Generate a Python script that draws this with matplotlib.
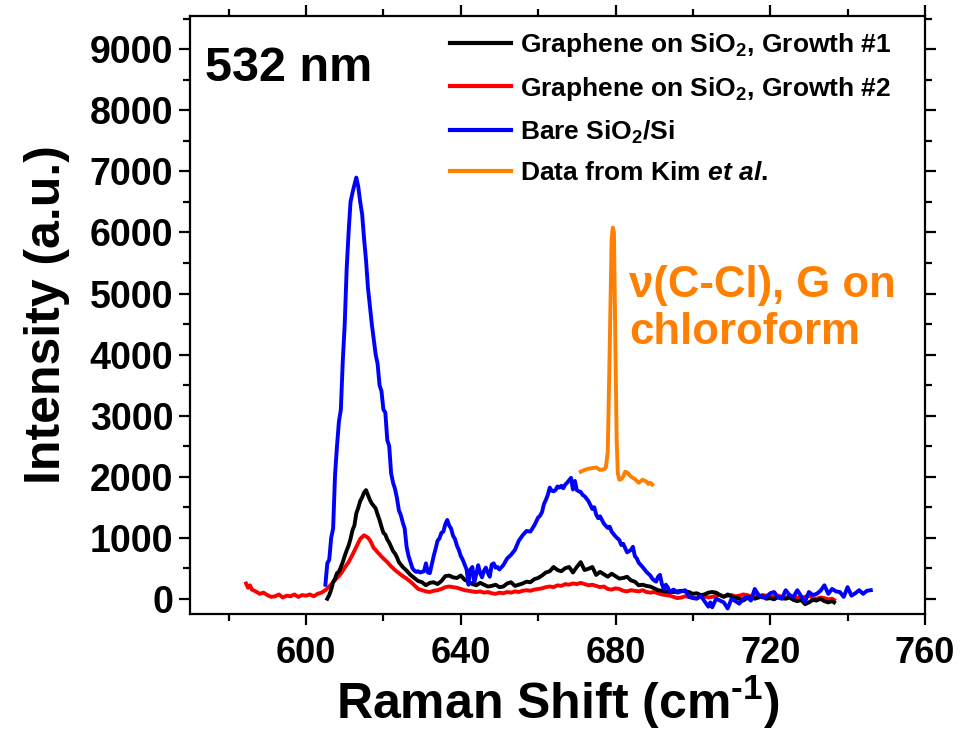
import matplotlib
matplotlib.use("Agg")
import matplotlib.pyplot as plt
from matplotlib.ticker import MultipleLocator

# ---------------- data ----------------
blue_x = [605, 605.5, 606, 606.5, 607, 607.5, 608, 608.5, 609, 609.5, 610, 610.5, 611, 611.5,
          612, 612.5, 613, 613.5, 614, 614.5, 615, 615.5, 616, 616.5, 617, 617.5, 618, 618.5,
          619, 619.5, 620, 620.5, 621, 621.5, 622, 622.5, 623, 623.5, 624, 624.5, 625, 625.5,
          626, 626.5, 627, 627.5, 628, 628.5, 629, 629.5, 630, 630.5, 631, 631.5, 632, 632.5,
          633, 633.5, 634, 634.5, 635, 635.5, 636, 636.5, 637, 637.5, 638, 638.5, 639, 639.5,
          640, 640.5, 641, 641.5, 642, 642.5, 643, 643.5, 644, 644.5, 645, 645.5, 646, 646.5,
          647, 647.5, 648, 648.5, 649, 649.5, 650, 651, 652, 653, 654, 655, 656, 657, 658, 659,
          660, 660.5, 661, 661.5, 662, 662.5, 663, 663.5, 664, 664.5, 665, 665.5, 666, 666.5,
          667, 667.5, 668, 668.5, 669, 669.5, 670, 670.5, 671, 671.5, 672, 673, 674, 674.5,
          675, 675.5, 676, 677, 678, 678.5, 679, 680, 680.5, 681, 681.5, 682, 683, 684, 684.5,
          685, 685.5, 686, 687, 688, 689, 689.5, 690, 690.5, 691, 691.5, 692, 692.5, 693, 693.5,
          694, 695, 696, 697, 698, 699, 700, 701, 702, 703, 704, 704.5, 705, 706, 707, 708, 709,
          710, 711, 712, 713, 714, 715, 716, 717, 718, 719, 720, 721, 722, 723, 724, 725, 726,
          727, 728, 729, 730, 731, 732, 733, 734, 735, 736, 737, 738, 739, 740, 741, 742, 743,
          744, 745, 746]
blue_y = [230, 580, 640, 1000, 1150, 2030, 2500, 2900, 3100, 3900, 4500, 5400, 6000, 6500,
          6650, 6780, 6900, 6750, 6500, 6300, 5900, 5550, 5100, 4800, 4500, 4250, 4000, 3850,
          3500, 3400, 3100, 3050, 2600, 2500, 2050, 1900, 1800, 1650, 1450, 1370, 1250, 1150,
          850, 700, 600, 500, 460, 440, 450, 430, 440, 450, 580, 430, 420, 560,
          700, 820, 950, 990, 1080, 1100, 1220, 1290, 1200, 1150, 1030, 980, 870, 800,
          700, 640, 560, 480, 230, 480, 520, 270, 400, 550, 420, 350, 460, 510,
          420, 360, 560, 580, 510, 520, 480, 550, 660, 720, 800, 950, 1040, 1110, 1100, 1200,
          1330, 1360, 1420, 1550, 1620, 1700, 1820, 1770, 1760, 1780, 1840, 1820, 1850, 1810,
          1870, 1900, 1940, 1980, 1790, 1930, 1780, 1760, 1750, 1700, 1680, 1600, 1470, 1500,
          1380, 1320, 1350, 1230, 1160, 1180, 1100, 1020, 990, 960, 880, 900, 760, 800, 850,
          700, 660, 590, 520, 440, 380, 330, 300, 280, 360, 390, 240, 160, 230, 190,
          110, 150, 100, 120, 140, 30, 10, 0, 50, -40, -130, -60, -140, 0, -30, -60, -160,
          0, -40, -80, 0, 30, -30, 160, 60, 20, 30, 90, 110, 20, 0, 140, 60, 30,
          140, 40, -50, 110, 60, 80, 130, 220, 80, 160, 120, 110, 30, 190, 50, 90, 140,
          80, 130, 140]

black_x = [605.5, 606, 606.5, 607, 607.5, 608, 608.5, 609, 609.5, 610, 610.5, 611, 611.5, 612,
           612.5, 613, 613.5, 614, 614.5, 615, 615.5, 616, 616.5, 617, 617.5, 618, 618.5, 619,
           619.5, 620, 620.5, 621, 621.5, 622, 622.5, 623, 623.5, 624, 624.5, 625, 626, 627,
           628, 629, 630, 631, 632, 633, 634, 635, 636, 637, 638, 639, 640, 641, 642, 643, 644,
           645, 646, 647, 648, 649, 650, 651, 652, 653, 654, 655, 656, 657, 658, 659, 660, 661,
           662, 663, 664, 665, 666, 667, 668, 669, 670, 671, 672, 673, 674, 675, 676, 677, 678,
           679, 680, 681, 682, 683, 684, 685, 686, 687, 688, 689, 690, 691, 692, 693, 694, 695,
           696, 697, 698, 699, 700, 701, 702, 703, 704, 705, 706, 707, 708, 709, 710, 711, 712,
           713, 714, 715, 716, 717, 718, 719, 720, 721, 722, 723, 724, 725, 726, 727, 728, 729,
           730, 731, 732, 733, 734, 735, 736, 736.5]
black_y = [0, 60, 150, 270, 330, 420, 440, 520, 600, 700, 790, 870, 980, 1120,
           1200, 1400, 1490, 1600, 1660, 1740, 1780, 1700, 1620, 1560, 1520, 1480, 1380, 1290,
           1180, 1080, 1050, 970, 920, 850, 780, 740, 680, 600, 560, 520, 460, 390,
           340, 290, 270, 220, 260, 270, 240, 290, 370, 380, 350, 340, 380, 310, 280, 240, 220,
           260, 230, 200, 210, 230, 190, 200, 250, 270, 210, 230, 250, 280, 270, 320, 340, 380,
           430, 450, 520, 470, 450, 500, 520, 430, 520, 600, 470, 490, 520, 390, 440, 400, 360,
           410, 370, 330, 340, 360, 300, 280, 220, 230, 210, 200, 170, 140, 130, 120, 110, 110,
           120, 130, 120, 110, 80, 90, 60, 70, 100, 110, 100, 60, 30, 70, 40, 20, 0,
           -30, 10, 30, 0, 20, 40, 0, 10, -10, 30, 10, 0, 20, -20, -40, -20, -90,
           -60, -20, -30, 0, -40, -60, -40, -60]

red_x = [584.5, 585, 585.5, 586, 587, 588, 589, 590, 591, 592, 593, 594, 595, 596, 597, 598,
         599, 600, 601, 602, 603, 604, 605, 606, 607, 608, 609, 610, 611, 612, 613, 614, 614.5,
         615, 615.5, 616, 616.5, 617, 617.5, 618, 618.5, 619, 619.5, 620, 621, 622, 623, 624,
         625, 626, 627, 628, 629, 630, 631, 632, 633, 634, 635, 636, 637, 638, 639, 640, 641,
         642, 643, 644, 645, 646, 647, 648, 649, 650, 651, 652, 653, 654, 655, 656, 657, 658,
         659, 660, 661, 662, 663, 664, 665, 666, 667, 668, 669, 670, 671, 672, 673, 674, 675,
         676, 677, 678, 679, 680, 681, 682, 683, 684, 685, 686, 687, 688, 689, 690, 691, 692,
         693, 694, 695, 696, 697, 698, 699, 700, 701, 702, 703, 704, 705, 706, 707, 708, 709,
         710, 711, 712, 713, 714, 715, 716, 717, 718, 719, 720, 721, 722, 723, 724, 725, 726,
         727, 728, 729, 730, 731, 732, 733, 734, 735, 736, 736.5]
red_y = [250, 180, 220, 150, 120, 80, 100, 60, 30, 40, 70, 20, 50, 40, 70, 30,
         60, 50, 70, 40, 80, 100, 140, 200, 270, 340, 410, 510, 600, 720, 850, 980, 1010,
         1040, 1020, 1000, 960, 900, 830, 800, 760, 730, 690, 660, 600, 530, 470, 420,
         370, 330, 280, 220, 160, 140, 120, 110, 130, 140, 160, 190, 200, 190, 180, 160, 140,
         130, 120, 110, 120, 100, 110, 90, 80, 100, 90, 110, 100, 120, 110, 130, 140, 130,
         150, 160, 170, 190, 200, 190, 220, 210, 240, 230, 250, 240, 260, 240, 220, 230, 210,
         190, 200, 160, 150, 170, 160, 130, 120, 140, 130, 120, 140, 110, 100, 110, 90, 70,
         60, 50, 30, 10, 20, 40, 30, 20, 10, 30, 40, 20, 30, 50, 60, 40, 50,
         60, 40, 50, 70, 60, 40, 50, 40, 60, 50, 30, 40, 50, 30, 20, 40, 30,
         20, 10, 30, 60, 10, 0, 20, 10, -10, 0, -20]

orange_x = [671, 672, 673, 674, 675, 676, 677, 677.5, 678, 678.5, 679, 679.3, 679.6, 680,
            680.3, 680.6, 681, 681.5, 682, 682.5, 683, 684, 685, 686, 687, 688, 688.5, 689,
            689.5]
orange_y = [2080, 2110, 2130, 2140, 2150, 2110, 2120, 2150, 2400, 4100, 5900, 6080, 6000, 4000,
            2600, 2050, 1950, 1960, 2000, 2080, 2070, 2000, 1960, 1900, 1950, 1920, 1880, 1900,
            1870]

labels = ["Graphene on SiO$_\\mathbf{2}$, Growth #1",
          "Graphene on SiO$_\\mathbf{2}$, Growth #2",
          "Bare SiO$_\\mathbf{2}$/Si",
          "Data from Kim $\\mathit{et\\ al.}$"]
colors = ["#000000", "#FF0000", "#0000FF", "#FF8000"]

x_ticks = [600, 640, 680, 720, 760]
y_ticks = [0, 1000, 2000, 3000, 4000, 5000, 6000, 7000, 8000, 9000]

# ---------------- style ----------------
plt.rcParams['font.family'] = ['Liberation Sans', 'DejaVu Sans']
plt.rcParams['font.weight'] = 'bold'
plt.rcParams['mathtext.fontset'] = 'custom'
plt.rcParams['mathtext.rm'] = 'Liberation Sans:bold'
plt.rcParams['mathtext.bf'] = 'Liberation Sans:bold'
plt.rcParams['mathtext.it'] = 'Liberation Sans:bold:italic'
plt.rcParams['mathtext.default'] = 'bf'
plt.rcParams['axes.unicode_minus'] = False

fig = plt.figure(figsize=(9.61, 7.34), dpi=100)
ax = fig.add_axes([0.1977, 0.1635, 0.7648, 0.815])

lw = 2.8
ax.plot(black_x, black_y, color=colors[0], lw=lw, label=labels[0], zorder=3)
ax.plot(red_x, red_y, color=colors[1], lw=lw, label=labels[1], zorder=2)
ax.plot(blue_x, blue_y, color=colors[2], lw=lw, label=labels[2], zorder=4)
ax.plot(orange_x, orange_y, color=colors[3], lw=lw, label=labels[3], zorder=5)

ax.set_xlim(570, 760)
ax.set_ylim(-250, 9550)
ax.set_xticks(x_ticks)
ax.set_yticks(y_ticks)
ax.xaxis.set_minor_locator(MultipleLocator(20))
ax.yaxis.set_minor_locator(MultipleLocator(500))

for s in ax.spines.values():
    s.set_linewidth(1.6)
ax.tick_params(which='both', direction='out', top=True, right=True, width=1.6)
ax.tick_params(which='major', length=8)
ax.tick_params(which='minor', length=5)
ax.tick_params(axis='y', labelsize=27, pad=4)
ax.tick_params(axis='x', labelsize=26, pad=8)
for lab in ax.get_xticklabels() + ax.get_yticklabels():
    lab.set_fontweight('bold')

ax.set_xlabel("Raman Shift (cm$^{\\text{-}\\mathbf{1}}$)", fontsize=36, fontweight='bold',
              labelpad=2)
ax.set_ylabel("Intensity (a.u.)", fontsize=36, fontweight='bold', labelpad=14)

leg = ax.legend(loc='upper left', bbox_to_anchor=(0.354, 0.975), frameon=False,
                fontsize=19, handlelength=2.3, handletextpad=0.35, labelspacing=0.6,
                borderpad=0, borderaxespad=0)
for line in leg.get_lines():
    line.set_linewidth(3)

ax.text(0.02, 0.912, "532 nm", transform=ax.transAxes, fontsize=35, fontweight='bold',
        ha='left', va='center')
ax.text(683.6, 4750, "ν(C-Cl), G on\nchloroform", color="#FF8000", fontsize=31.5,
        fontweight='bold', ha='left', va='center', linespacing=1.2)

fig.savefig("out.png", dpi=100)
